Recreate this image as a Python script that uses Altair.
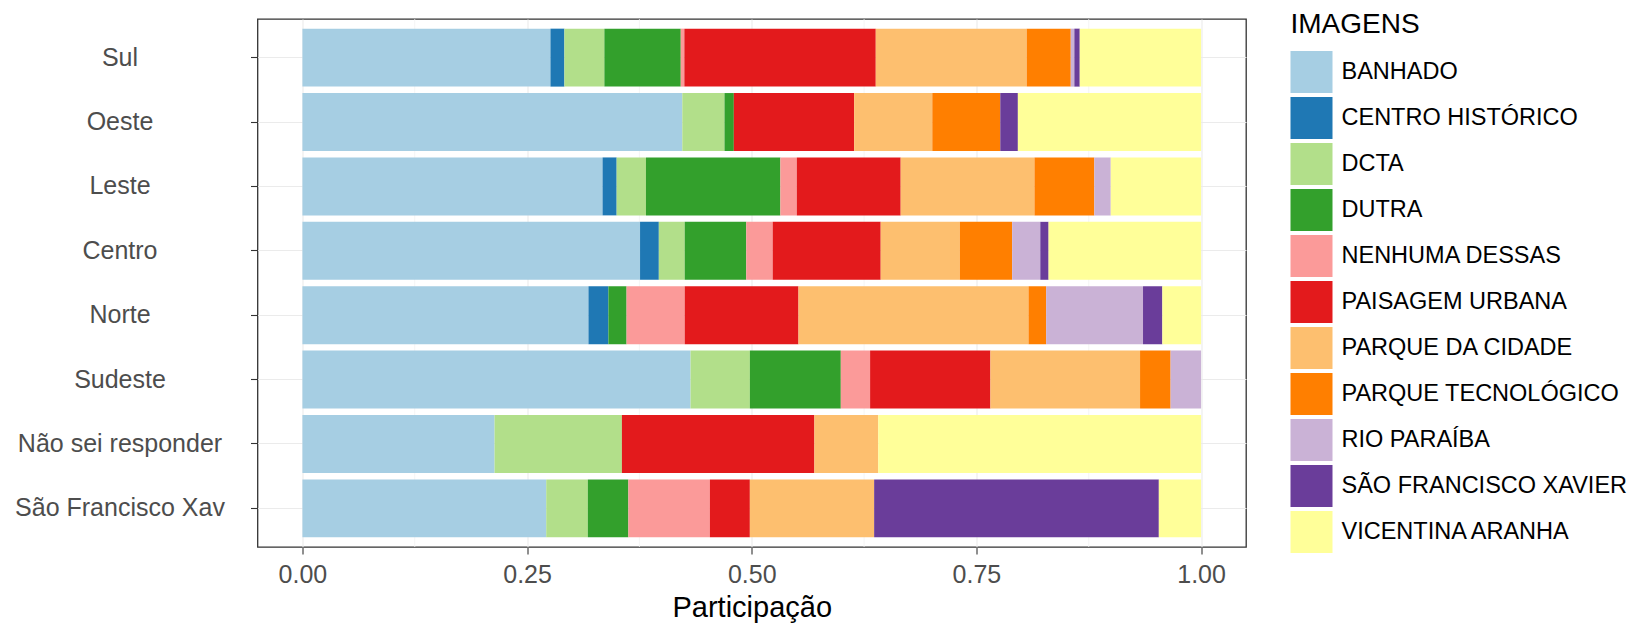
import altair as alt
import pandas as pd

REGIOES = ["Sul", "Oeste", "Leste", "Centro", "Norte", "Sudeste",
           "Não sei responder", "São Francisco Xav"]

IMAGENS = ["BANHADO", "CENTRO HISTÓRICO", "DCTA", "DUTRA", "NENHUMA DESSAS",
           "PAISAGEM URBANA", "PARQUE DA CIDADE", "PARQUE TECNOLÓGICO",
           "RIO PARAÍBA", "SÃO FRANCISCO XAVIER", "VICENTINA ARANHA"]

CORES = ["#a6cee3", "#1f78b4", "#b2df8a", "#33a02c", "#fb9a99", "#e31a1c",
         "#fdbf6f", "#ff7f00", "#cab2d6", "#6a3d9a", "#ffff99"]

# participation of each image (in IMAGENS order) per region
SUL = [0.276, 0.0155, 0.0445, 0.085, 0.004, 0.213, 0.168, 0.049, 0.004, 0.006, 0.135]
OESTE = [0.423, 0, 0.047, 0.0104, 0, 0.134, 0.087, 0.0757, 0, 0.0196, 0.204]
LESTE = [0.334, 0.0157, 0.0326, 0.1496, 0.0183, 0.1156, 0.1489, 0.0666, 0.0183, 0, 0.1005]
CENTRO = [0.3757, 0.0209, 0.0288, 0.0685, 0.0294, 0.1202, 0.0881, 0.0582, 0.0313, 0.0092, 0.1697]
NORTE = [0.3183, 0.0222, 0, 0.0202, 0.0647, 0.1266, 0.256, 0.0196, 0.1078, 0.0215, 0.0431]
SUDESTE = [0.4319, 0, 0.066, 0.1012, 0.0326, 0.1339, 0.1665, 0.034, 0.0339, 0, 0]
NAO_SEI = [0.2138, 0, 0.1417, 0, 0, 0.2142, 0.0711, 0, 0, 0, 0.3592]
SAO_FRANCISCO = [0.2713, 0, 0.0463, 0.0451, 0.0907, 0.0445, 0.1383, 0, 0, 0.3168, 0.047]

X_TICKS = [0, 0.25, 0.5, 0.75, 1.0]
X_MINOR = [0.125, 0.375, 0.625, 0.875]

SERIES = [SUL, OESTE, LESTE, CENTRO, NORTE, SUDESTE, NAO_SEI, SAO_FRANCISCO]

rows = []
for reg, vals in zip(REGIOES, SERIES):
    for i, (img, v) in enumerate(zip(IMAGENS, vals)):
        if v > 0:
            rows.append({"regiao": reg, "imagem": img, "valor": v, "ordem": i})
df = pd.DataFrame(rows)

FONT = "Liberation Sans"

x_axis = alt.Axis(values=X_TICKS, format=".2f", title="Participação",
                  grid=True, gridColor="#EBEBEB", gridWidth=1.1,
                  domain=False, tickColor="#333333", tickSize=7, tickWidth=1.1,
                  labelFontSize=25, labelColor="#4D4D4D", labelFont=FONT,
                  labelPadding=8, titleFontSize=29, titleFont=FONT,
                  titleColor="#000000", titleFontWeight="normal", titlePadding=6)
x_scale = alt.Scale(domain=[-0.05, 1.05], nice=False, zero=False)

minor = alt.Chart(pd.DataFrame({"x": X_MINOR})).mark_rule(
    color="#F2F2F2", strokeWidth=0.8
).encode(x=alt.X("x:Q", scale=x_scale, axis=x_axis))

bars = alt.Chart(df).mark_bar().encode(
    x=alt.X("valor:Q", stack="normalize", scale=x_scale, axis=x_axis),
    y=alt.Y("regiao:N", sort=REGIOES,
            scale=alt.Scale(paddingInner=0.1, paddingOuter=0.15),
            axis=alt.Axis(title=None, bandPosition=0.5, grid=True,
                          gridColor="#EBEBEB", gridWidth=1.1, domain=False,
                          tickColor="#333333", tickSize=7, tickWidth=1.1,
                          labelFontSize=25, labelColor="#4D4D4D", labelFont=FONT,
                          labelAlign="center", labelBaseline="middle",
                          labelPadding=131, labelLimit=400)),
    color=alt.Color("imagem:N",
                    scale=alt.Scale(domain=IMAGENS, range=CORES),
                    legend=alt.Legend(title="IMAGENS", orient="none",
                                      legendX=1033, legendY=-8,
                                      titleFontSize=28, titleFont=FONT,
                                      titleColor="#000000", titleFontWeight="normal",
                                      titlePadding=12,
                                      labelFontSize=23.5, labelFont=FONT,
                                      labelColor="#000000", labelOffset=9,
                                      labelLimit=500,
                                      symbolType="square", symbolSize=1764,
                                      symbolStrokeWidth=0, symbolOpacity=1,
                                      rowPadding=4, padding=0)),
    order=alt.Order("ordem:Q", sort="ascending"),
)

chart = alt.layer(minor, bars).properties(
    width=988.5, height=528,
    autosize=alt.AutoSizeParams(type="none"),
    padding={"left": 249.5, "top": 11, "right": 389, "bottom": 80},
).configure_view(stroke="#333333", strokeWidth=1.3)

chart.save("out.html", embed_options={"renderer": "svg", "actions": False})
